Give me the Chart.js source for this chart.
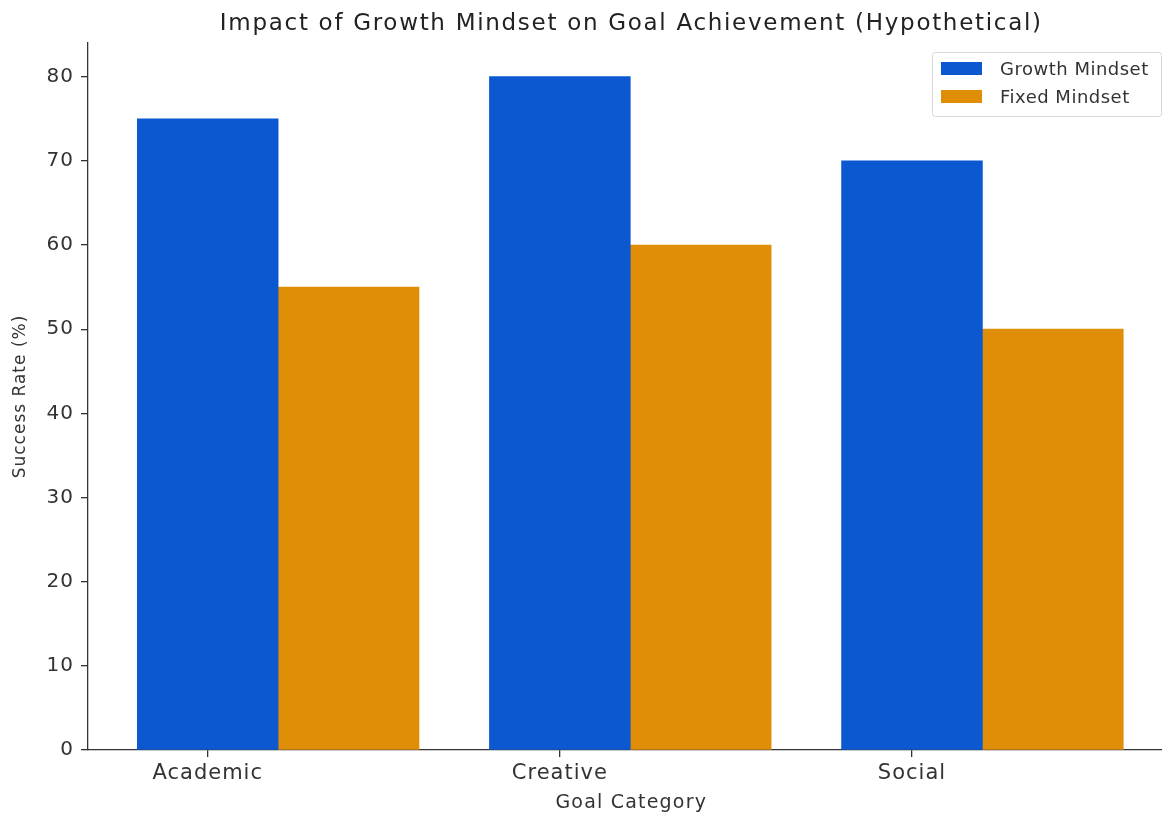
<!DOCTYPE html>
<html>
<head>
<meta charset="utf-8">
<script src="https://cdn.jsdelivr.net/npm/chart.js@4.4.0/dist/chart.umd.min.js"></script>
<style>
html,body{margin:0;padding:0;background:#fff;}
#wrap{width:1162px;height:816px;}
</style>
</head>
<body>
<div id="wrap"><canvas id="c" width="1162" height="816"></canvas></div>
<script>
const categories = ["Academic", "Creative", "Social"];
const growthValues = [75, 80, 70];
const fixedValues = [55, 60, 50];
const seriesNames = ["Growth Mindset", "Fixed Mindset"];
const yTicks = [0, 10, 20, 30, 40, 50, 60, 70, 80];
const chartTitle = "Impact of Growth Mindset on Goal Achievement (Hypothetical)";
const xTitle = "Goal Category";
const yTitle = "Success Rate (%)";

const FONT = "'DejaVu Sans', sans-serif";
const TEXT = "#333333";
const BLUE = "#0b58d0";
const ORANGE = "#e08d08";
const BAR_W = 0.4;
const X_MIN = -0.34, X_MAX_FULL = 2.74, X_MAX_VIEW = 2.71;

const growthData = growthValues.map((v, i) => ({x: i, y: v}));
const fixedData = fixedValues.map((v, i) => ({x: i + BAR_W, y: v}));

const spacingPlugin = {
  id: 'spacing',
  beforeLayout(chart) { chart.ctx.letterSpacing = '1px'; },
  beforeDraw(chart) { chart.ctx.letterSpacing = '1px'; }
};

const decorPlugin = {
  id: 'decor',
  afterDraw(chart) {
    const ctx = chart.ctx;
    const xs = chart.scales.x;
    const ca = chart.chartArea;
    const axCenter = (ca.left + xs.getPixelForValue(X_MAX_FULL)) / 2;
    ctx.save();
    // title
    ctx.letterSpacing = '1.7px';
    ctx.fillStyle = "#222";
    ctx.font = "23px " + FONT;
    ctx.textAlign = "center";
    ctx.textBaseline = "alphabetic";
    ctx.fillText(chartTitle, axCenter + 1, 30);
    // x axis title
    ctx.letterSpacing = '1.2px';
    ctx.fillStyle = TEXT;
    ctx.font = "19px " + FONT;
    ctx.fillText(xTitle, axCenter + 1, 808);
    // legend
    const lx = 932, ly = 52, lw = 229, lh = 64;
    ctx.fillStyle = "rgba(255,255,255,0.85)";
    ctx.strokeStyle = "#d6d6d6";
    ctx.lineWidth = 1;
    ctx.beginPath();
    if (ctx.roundRect) ctx.roundRect(lx + 0.5, ly + 0.5, lw, lh, 3); else ctx.rect(lx + 0.5, ly + 0.5, lw, lh);
    ctx.fill();
    ctx.stroke();
    ctx.letterSpacing = '0.5px';
    chart.data.datasets.forEach((ds, i) => {
      const y = 62 + i * 28;
      ctx.fillStyle = ds.backgroundColor;
      ctx.fillRect(941, y, 41, 13);
      ctx.fillStyle = TEXT;
      ctx.font = "18px " + FONT;
      ctx.textAlign = "left";
      ctx.textBaseline = "alphabetic";
      ctx.fillText(ds.label, 1000, y + 13);
    });
    ctx.restore();
  }
};

new Chart(document.getElementById('c'), {
  type: 'bar',
  data: {
    datasets: [
      {label: seriesNames[0], data: growthData, backgroundColor: BLUE, grouped: false,
       barPercentage: 1, categoryPercentage: 1, borderWidth: 0},
      {label: seriesNames[1], data: fixedData, backgroundColor: ORANGE, grouped: false,
       barPercentage: 1, categoryPercentage: 1, borderWidth: 0}
    ]
  },
  options: {
    responsive: false,
    animation: false,
    devicePixelRatio: 1,
    layout: {padding: {top: 43, right: 0, bottom: 0, left: 0}},
    plugins: {legend: {display: false}, title: {display: false}, tooltip: {enabled: false}},
    scales: {
      x: {
        type: 'linear',
        offset: false,
        min: X_MIN,
        max: X_MAX_VIEW,
        afterBuildTicks(scale) { scale.ticks = categories.map((c, i) => ({value: i})); },
        afterFit(scale) { scale.height = 66; },
        ticks: {
          callback: (v) => categories[v],
          color: TEXT,
          font: {family: FONT, size: 21},
          padding: 4,
          maxRotation: 0,
          autoSkip: false
        },
        grid: {display: true, offset: false, drawOnChartArea: false, drawTicks: true, tickLength: 7, color: "#333", lineWidth: 1.3},
        border: {display: true, color: "#333", width: 1.3},
        title: {display: false}
      },
      y: {
        min: 0,
        max: 84,
        afterBuildTicks(scale) { scale.ticks = yTicks.map(v => ({value: v})); },
        afterFit(scale) { scale.width = 88; },
        ticks: {color: TEXT, font: {family: FONT, size: 20}, padding: 7},
        grid: {display: true, drawOnChartArea: false, drawTicks: true, tickLength: 7, color: "#333", lineWidth: 1.3},
        border: {display: true, color: "#333", width: 1.3},
        title: {display: true, text: yTitle, color: TEXT, font: {family: FONT, size: 17}, padding: {top: 10, bottom: 0}}
      }
    }
  },
  plugins: [spacingPlugin, decorPlugin]
});
</script>
</body>
</html>
